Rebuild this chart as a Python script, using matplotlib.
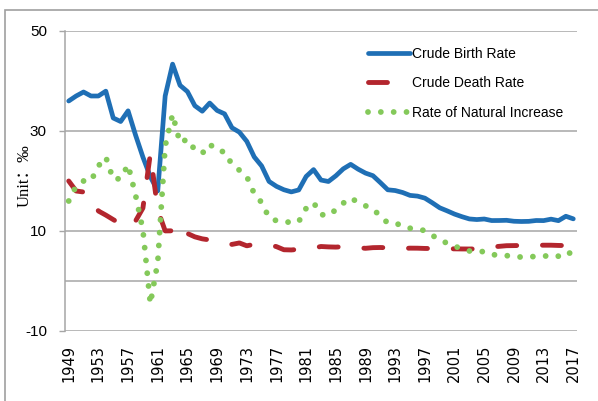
import matplotlib
matplotlib.use("Agg")
import matplotlib.pyplot as plt
from matplotlib.patches import Rectangle

years = list(range(1949, 2018))
birth = [36.00, 37.00, 37.80, 37.00, 37.00, 37.97, 32.60, 31.90, 34.03, 29.22,
         24.78, 20.86, 18.02, 37.01, 43.37, 39.14, 37.88, 35.05, 33.96, 35.59,
         34.11, 33.43, 30.65, 29.77, 27.93, 24.82, 23.01, 19.91, 18.93, 18.25,
         17.82, 18.21, 20.91, 22.28, 20.19, 19.90, 21.04, 22.43, 23.33, 22.37,
         21.58, 21.06, 19.68, 18.24, 18.09, 17.70, 17.12, 16.98, 16.57, 15.64,
         14.64, 14.03, 13.38, 12.86, 12.41, 12.29, 12.40, 12.09, 12.10, 12.14,
         11.95, 11.90, 11.93, 12.10, 12.08, 12.37, 12.07, 12.95, 12.43]
death = [20.00, 18.00, 17.80, 17.00, 14.00, 13.18, 12.28, 11.40, 10.80, 11.98,
         14.59, 25.43, 14.24, 10.02, 10.04, 11.50, 9.50, 8.83, 8.43, 8.21,
         8.03, 7.60, 7.32, 7.61, 7.04, 7.34, 7.32, 7.25, 6.87, 6.25,
         6.21, 6.34, 6.36, 6.60, 6.90, 6.82, 6.78, 6.86, 6.72, 6.64,
         6.54, 6.67, 6.70, 6.64, 6.64, 6.49, 6.57, 6.56, 6.51, 6.50,
         6.46, 6.45, 6.43, 6.41, 6.40, 6.42, 6.51, 6.81, 6.93, 7.06,
         7.08, 7.11, 7.14, 7.15, 7.16, 7.16, 7.11, 7.09, 7.11]
natural = [16.00, 19.00, 20.00, 20.00, 23.00, 24.79, 20.32, 20.50, 23.23, 17.24,
           10.19, -4.57, 3.78, 26.99, 33.33, 27.64, 28.38, 26.22, 25.53, 27.38,
           26.08, 25.83, 23.33, 22.16, 20.89, 17.48, 15.69, 12.66, 12.06, 12.00,
           11.61, 11.87, 14.55, 15.68, 13.29, 13.08, 14.26, 15.57, 16.61, 15.73,
           15.04, 14.39, 12.98, 11.60, 11.45, 11.21, 10.55, 10.42, 10.06, 9.14,
           8.18, 7.58, 6.95, 6.45, 6.01, 5.87, 5.89, 5.28, 5.17, 5.08,
           4.87, 4.79, 4.79, 4.95, 4.92, 5.21, 4.96, 5.86, 5.32]
tick_years = list(range(1949, 2018, 4))
yticks = [-10, 10, 30, 50]

GRID = "#a6a6a6"
sans = ["Liberation Sans", "DejaVu Sans"]

fig = plt.figure(figsize=(5.98, 4.01), dpi=100)
ax = fig.add_axes([65 / 598, 1 - 331 / 401, 512 / 598, 300 / 401])

# outer chart border (runs off the right and bottom edges)
fig.patches.append(Rectangle((5 / 598, -0.1), 1.2, 1 - 10 / 401 + 0.1,
                             transform=fig.transFigure, fill=False,
                             edgecolor="#a0a0a0", lw=1.2))

ax.plot(years, birth, color="#1f6fb5", lw=3.4, solid_joinstyle="round",
        solid_capstyle="round", label="Crude Birth Rate", zorder=3)
ax.plot(years, death, color="#b3262e", lw=3.5, linestyle=(0, (3.9, 5.3)),
        dash_capstyle="round", label="Crude Death Rate", zorder=4)
ax.plot(years, natural, color="#84c95a", lw=4.2, linestyle=(0, (0.001, 2.2)),
        dash_capstyle="round", label="Rate of Natural Increase", zorder=5)

ax.set_xlim(1948.5, 2017.5)
ax.set_ylim(-10, 50)
ax.set_yticks(yticks)
ax.set_xticks(tick_years)
ax.set_xticklabels([str(y) for y in tick_years], rotation=90, fontsize=10.5,
                   family="DejaVu Sans")
ax.set_yticklabels([str(v) for v in yticks], fontsize=11, family=sans)
ax.tick_params(axis="x", length=0, pad=10)
ax.tick_params(axis="y", length=4, width=1, color=GRID, pad=9)

for v in yticks:
    ax.axhline(v, color=GRID, lw=1.1, zorder=1)
ax.axhline(0, color=GRID, lw=1.1, zorder=1)
for s in ["top", "right", "bottom"]:
    ax.spines[s].set_visible(False)
ax.spines["left"].set_color(GRID)
ax.spines["left"].set_linewidth(1.1)

fig.text(25 / 598, 1 - 176 / 401, "Unit：‰", rotation=90, ha="center",
         va="center", fontsize=12, family=["Liberation Serif", "Noto Sans CJK SC"])

leg = ax.legend(loc="upper left", bbox_to_anchor=((368 - 65) / 512, (331 - 47) / 300),
                frameon=False, borderpad=0, borderaxespad=0, handlelength=3.0,
                handletextpad=0.15, labelspacing=1.1,
                prop={"family": sans, "size": 10})

fig.savefig("out.png", dpi=100)
